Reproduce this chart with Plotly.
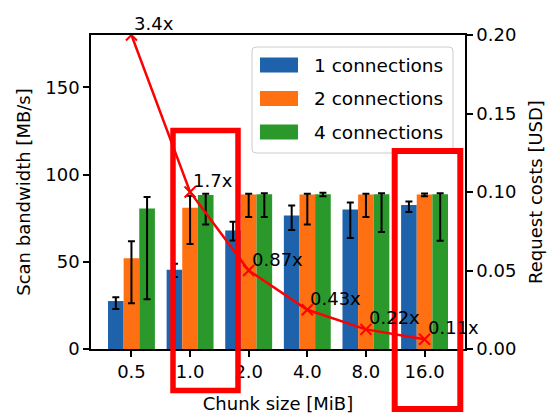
import plotly.graph_objects as go

# ---------------- data ----------------
chunks = ["0.5", "1.0", "2.0", "4.0", "8.0", "16.0"]
series_names = ["1 connections", "2 connections", "4 connections"]
series_colors = ["#1f62ac", "#ff7012", "#2a982a"]

bw1 = [27.5, 45.5, 68.0, 76.5, 80.0, 82.5]
bw1_hi = [29.7, 48.8, 73.0, 82.2, 84.0, 84.5]
bw1_lo = [23.0, 41.3, 62.2, 68.2, 63.6, 78.6]

bw2 = [52.0, 81.0, 88.5, 88.5, 88.5, 88.5]
bw2_hi = [61.7, 87.9, 89.0, 89.0, 89.0, 89.2]
bw2_lo = [26.2, 60.2, 75.7, 71.3, 75.7, 87.5]

bw4 = [80.5, 88.3, 88.7, 88.7, 88.7, 88.7]
bw4_hi = [87.2, 89.0, 89.3, 89.5, 89.3, 89.3]
bw4_lo = [28.5, 71.3, 75.7, 87.5, 67.0, 62.0]

costs = [0.2, 0.1, 0.05, 0.025, 0.0125, 0.00625]
cost_labels = ["3.4x", "1.7x", "0.87x", "0.43x", "0.22x", "0.11x"]

bw_vals = [bw1, bw2, bw4]
bw_his = [bw1_hi, bw2_hi, bw4_hi]
bw_los = [bw1_lo, bw2_lo, bw4_lo]

FONT = "DejaVu Sans"
W, H = 548, 419
L, R, T, B = 91, 465, 35, 349


def px(x):
    return (x - L) / (R - L)


def py(y):
    return (B - y) / (B - T)


fig = go.Figure()

for name, color, v, hi, lo in zip(series_names, series_colors, bw_vals, bw_his, bw_los):
    fig.add_trace(go.Bar(
        x=chunks, y=v, name=name, marker=dict(color=color, line=dict(width=0)),
        error_y=dict(type="data", symmetric=False,
                     array=[h - a for h, a in zip(hi, v)],
                     arrayminus=[a - l for a, l in zip(v, lo)],
                     color="black", thickness=2, width=3.5),
        showlegend=False,
    ))

fig.add_trace(go.Scatter(
    x=chunks, y=costs, yaxis="y2", mode="lines+markers",
    line=dict(color="#ff0000", width=2.5),
    marker=dict(symbol="x-thin", size=11, color="#ff0000",
                line=dict(color="#ff0000", width=2)),
    showlegend=False,
))

annotations = []
# category axis: annotation positions given as category index
for i, (v, lab) in enumerate(zip(costs, cost_labels)):
    annotations.append(dict(
        x=i, y=v, xref="x", yref="y2", text=lab, showarrow=False,
        xanchor="left", yanchor="bottom", xshift=1, yshift=-1,
        font=dict(family=FONT, size=18, color="black"),
    ))

shapes = []
# legend frame (rounded)
lx0, ly0, lx1, ly1, rr = 252, 47, 453, 153, 4
path = (f"M {px(lx0 + rr)},{py(ly0)} L {px(lx1 - rr)},{py(ly0)} "
        f"Q {px(lx1)},{py(ly0)} {px(lx1)},{py(ly0 + rr)} "
        f"L {px(lx1)},{py(ly1 - rr)} Q {px(lx1)},{py(ly1)} {px(lx1 - rr)},{py(ly1)} "
        f"L {px(lx0 + rr)},{py(ly1)} Q {px(lx0)},{py(ly1)} {px(lx0)},{py(ly1 - rr)} "
        f"L {px(lx0)},{py(ly0 + rr)} Q {px(lx0)},{py(ly0)} {px(lx0 + rr)},{py(ly0)} Z")
shapes.append(dict(type="path", xref="paper", yref="paper", path=path,
                   fillcolor="rgba(255,255,255,0.8)", line=dict(color="#cccccc", width=1)))
for i, (name, color) in enumerate(zip(series_names, series_colors)):
    cy = 65 + 33.5 * i
    shapes.append(dict(type="rect", xref="paper", yref="paper",
                       x0=px(260), x1=px(298), y0=py(cy - 7.5), y1=py(cy + 7.5),
                       fillcolor=color, line=dict(width=0)))
    annotations.append(dict(x=px(312), y=py(cy), xref="paper", yref="paper",
                            text=name, showarrow=False, xanchor="left", yanchor="middle",
                            font=dict(family=FONT, size=18.5, color="black")))

# red highlight boxes
shapes.append(dict(type="rect", xref="paper", yref="paper",
                   x0=px(173), x1=px(238), y0=py(390.5), y1=py(130.5),
                   line=dict(color="#ff0000", width=5.5)))
shapes.append(dict(type="rect", xref="paper", yref="paper",
                   x0=px(394.7), x1=px(460.3), y0=py(409), y1=py(151),
                   line=dict(color="#ff0000", width=6)))

axis_font = dict(family=FONT, size=18, color="black")

fig.update_layout(
    width=W, height=H,
    margin=dict(l=L, r=W - R, t=T, b=H - B, autoexpand=False),
    paper_bgcolor="white", plot_bgcolor="white",
    barmode="group", bargap=0.2, bargroupgap=0,
    font=axis_font,
    xaxis=dict(type="category", range=[-0.69, 5.69], showline=True, linecolor="black",
               linewidth=1.5, mirror=True, ticks="outside", ticklen=6, tickwidth=1.5,
               tickcolor="black", showgrid=False, tickfont=axis_font,
               title=dict(text="Chunk size [MiB]", font=axis_font, standoff=16)),
    yaxis=dict(range=[0, 180], tickvals=[0, 50, 100, 150], showline=True, linecolor="black",
               linewidth=1.5, ticks="outside", ticklen=6, tickwidth=1.5, tickcolor="black",
               showgrid=False, zeroline=False, tickfont=axis_font,
               title=dict(text="Scan bandwidth [MB/s]", font=axis_font, standoff=10)),
    yaxis2=dict(overlaying="y", side="right", range=[0, 0.2],
                tickvals=[0, 0.05, 0.1, 0.15, 0.2], tickformat=".2f",
                showline=True, linecolor="black", linewidth=1.5, ticks="outside",
                ticklen=6, tickwidth=1.5, tickcolor="black", showgrid=False,
                zeroline=False, tickfont=axis_font,
                title=dict(text="Request costs [USD]", font=axis_font, standoff=14)),
    shapes=shapes,
    annotations=annotations,
)

fig.write_html("out.html")
